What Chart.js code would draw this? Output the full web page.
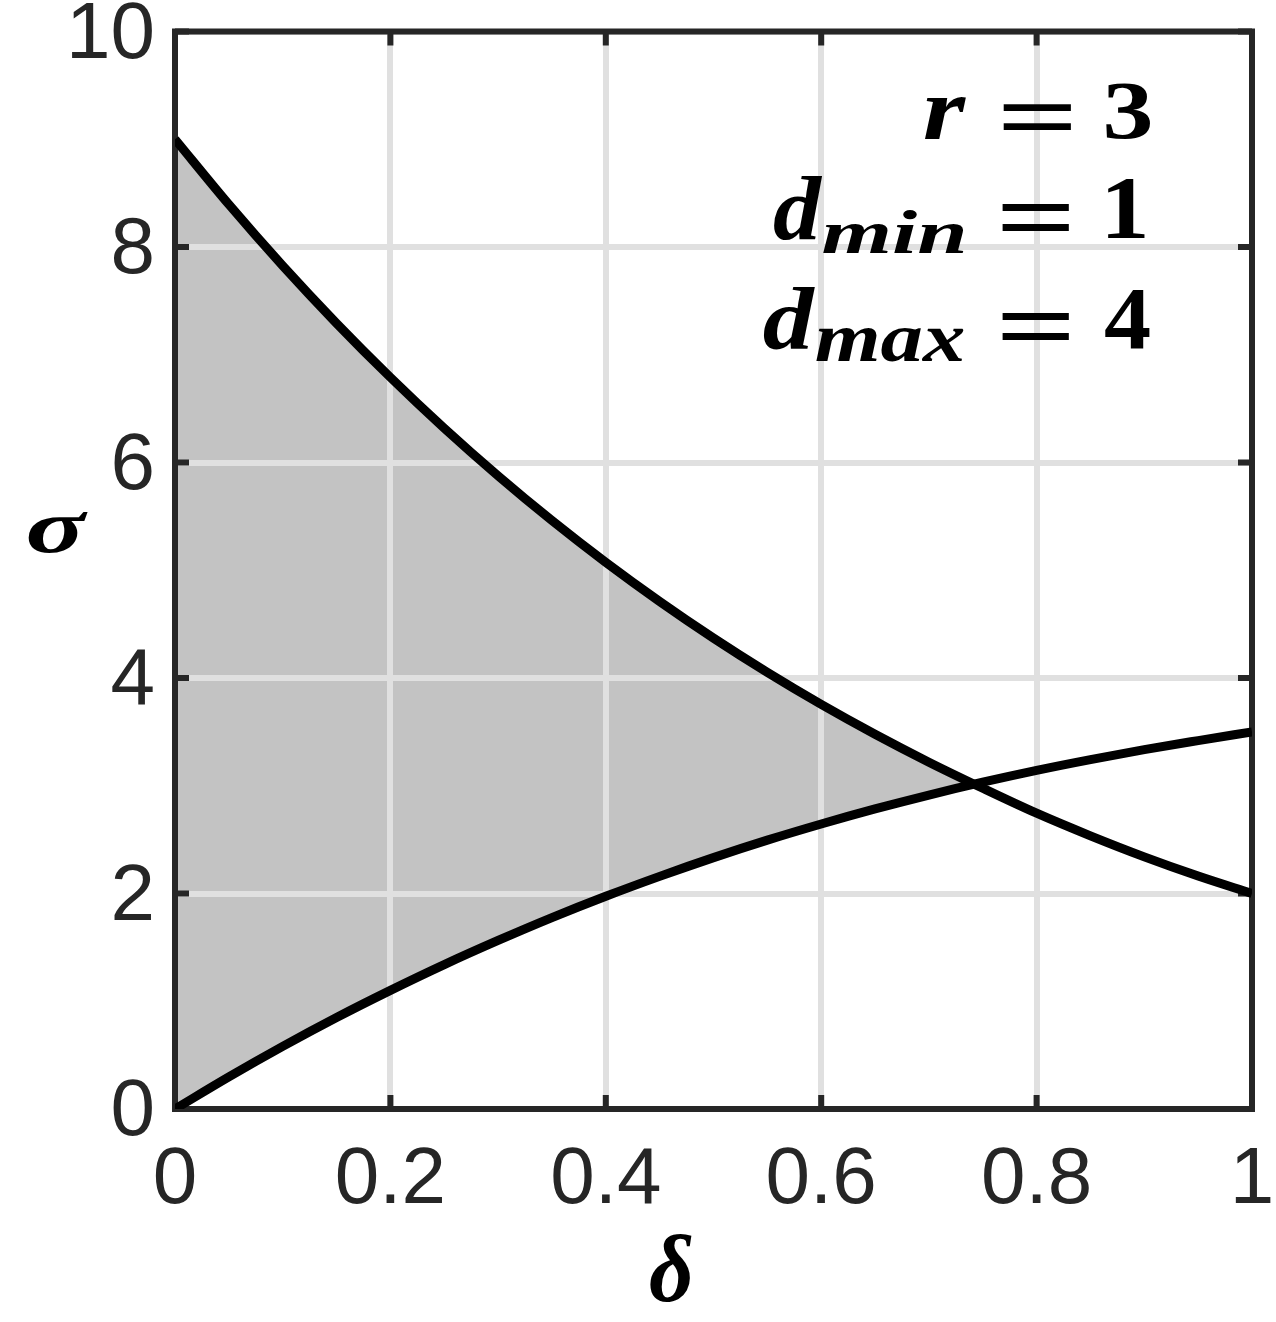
<!DOCTYPE html>
<html>
<head>
<meta charset="utf-8">
<script src="https://cdn.jsdelivr.net/npm/chart.js@4/dist/chart.umd.min.js"></script>
<style>
  html, body { margin: 0; padding: 0; background: #ffffff; }
  #c { display: block; }
</style>
</head>
<body>
<canvas id="c" width="1276" height="1322"></canvas>
<script>
// ---- data ----
const delta = [0, 0.05, 0.1, 0.15, 0.2, 0.25, 0.3, 0.35, 0.4, 0.45, 0.5,
               0.55, 0.6, 0.65, 0.7, 0.75, 0.8, 0.85, 0.9, 0.95, 1];
const sigmaUpper = [9.000, 8.395, 7.826, 7.292, 6.790, 6.318, 5.876, 5.461, 5.073, 4.710, 4.370,
                    4.052, 3.755, 3.478, 3.219, 2.977, 2.745, 2.535, 2.340, 2.162, 2.000];
const sigmaLower = [0.000, 0.298, 0.581, 0.849, 1.101, 1.340, 1.564, 1.776, 1.974, 2.159, 2.333,
                    2.495, 2.645, 2.785, 2.914, 3.033, 3.143, 3.243, 3.335, 3.419, 3.500];
const xTickLabels = ['0', '0.2', '0.4', '0.6', '0.8', '1'];
const yTickLabels = ['0', '2', '4', '6', '8', '10'];
const xLabel = 'δ';
const yLabel = 'σ';
const annotationLines = [
  { main: 'r', sub: '', value: '3' },
  { main: 'd', sub: 'min', value: '1' },
  { main: 'd', sub: 'max', value: '4' }
];

// ---- styling ----
const AXIS_COLOR = '#262626';
const GRID_COLOR = '#e0e0e0';
const FILL_COLOR = '#c3c3c3';
const TICK_FONT = "'Liberation Sans', Arial, sans-serif";
const MATH_FONT = "'Liberation Serif', 'Times New Roman', serif";

function fitText(ctx, text, font, L, T, R, B) {
  ctx.save();
  ctx.font = font;
  ctx.textAlign = 'left';
  ctx.textBaseline = 'alphabetic';
  const m = ctx.measureText(text);
  const inkW = m.actualBoundingBoxLeft + m.actualBoundingBoxRight;
  const inkH = m.actualBoundingBoxAscent + m.actualBoundingBoxDescent;
  const sx = (R - L) / inkW;
  const sy = (B - T) / inkH;
  ctx.translate(L + m.actualBoundingBoxLeft * sx, T + m.actualBoundingBoxAscent * sy);
  ctx.scale(sx, sy);
  ctx.fillText(text, 0, 0);
  ctx.restore();
}

// ink boxes for text pieces (page pixels)
const annotationBoxes = [
  { main: [924, 97, 966, 139],  sub: null,                 eq: [1003, 103, 1072, 129], val: [1106, 83, 1150, 140] },
  { main: [774, 175, 823, 240], sub: [823, 210, 964, 253], eq: [1002, 204, 1070, 231], val: [1108, 178, 1145, 238] },
  { main: [764, 287, 816, 350], sub: [816, 328, 964, 362], eq: [1002, 313, 1070, 340], val: [1105, 289, 1150, 349] }
];

const framePlugin = {
  id: 'frame',
  beforeDatasetsDraw(chart) {
    const ctx = chart.ctx;
    const a = chart.chartArea;
    const xs = chart.scales.x, ys = chart.scales.y;
    ctx.save();
    ctx.strokeStyle = AXIS_COLOR;
    ctx.lineWidth = 6;
    ctx.lineCap = 'butt';
    const tl = 14;
    ctx.beginPath();
    xs.ticks.forEach(t => {
      const px = xs.getPixelForValue(t.value);
      ctx.moveTo(px, a.bottom); ctx.lineTo(px, a.bottom - tl);
      ctx.moveTo(px, a.top); ctx.lineTo(px, a.top + tl);
    });
    ys.ticks.forEach(t => {
      const py = ys.getPixelForValue(t.value);
      ctx.moveTo(a.left, py); ctx.lineTo(a.left + tl, py);
      ctx.moveTo(a.right, py); ctx.lineTo(a.right - tl, py);
    });
    ctx.stroke();
    ctx.lineJoin = 'miter';
    ctx.strokeRect(a.left, a.top, a.right - a.left, a.bottom - a.top);
    ctx.restore();
  },
  afterDraw(chart) {
    const ctx = chart.ctx;
    ctx.save();
    ctx.fillStyle = '#000000';
    annotationLines.forEach((ln, i) => {
      const b = annotationBoxes[i];
      fitText(ctx, ln.main, 'italic bold 88px ' + MATH_FONT, ...b.main);
      if (ln.sub) fitText(ctx, ln.sub, 'italic bold 62px ' + MATH_FONT, ...b.sub);
      fitText(ctx, '=', 'bold 88px ' + MATH_FONT, ...b.eq);
      fitText(ctx, ln.value, 'bold 88px ' + MATH_FONT, ...b.val);
    });
    // axis labels
    fitText(ctx, xLabel, 'italic bold 92px ' + MATH_FONT, 650, 1235, 692, 1302);
    fitText(ctx, yLabel, 'italic bold 92px ' + MATH_FONT, 28, 512, 88, 553);
    ctx.restore();
  }
};

const upperPts = delta.map((d, i) => ({ x: d, y: sigmaUpper[i] }));
const lowerPts = delta.map((d, i) => ({ x: d, y: sigmaLower[i] }));

new Chart(document.getElementById('c'), {
  type: 'line',
  data: {
    datasets: [
      {
        data: upperPts,
        borderColor: '#000000',
        borderWidth: 9,
        pointRadius: 0,
        cubicInterpolationMode: 'monotone',
        fill: { target: 1, above: FILL_COLOR, below: 'rgba(0,0,0,0)' }
      },
      {
        data: lowerPts,
        borderColor: '#000000',
        borderWidth: 9,
        pointRadius: 0,
        cubicInterpolationMode: 'monotone',
        fill: false
      }
    ]
  },
  options: {
    responsive: false,
    animation: false,
    devicePixelRatio: 1,
    layout: { padding: { top: 31.5, right: 24, left: 0, bottom: 0 } },
    plugins: {
      legend: { display: false },
      tooltip: { enabled: false },
      filler: { drawTime: 'beforeDraw' }
    },
    scales: {
      x: {
        type: 'linear',
        min: 0, max: 1,
        ticks: {
          stepSize: 0.2,
          autoSkip: false,
          maxRotation: 0,
          padding: 24,
          color: AXIS_COLOR,
          font: { family: TICK_FONT, size: 80 },
          callback: (v, i) => xTickLabels[i]
        },
        grid: { color: GRID_COLOR, lineWidth: 6, drawTicks: false },
        border: { display: false },
        afterFit(s) { s.height = 213; s.paddingLeft = 0; s.paddingRight = 0; }
      },
      y: {
        type: 'linear',
        min: 0, max: 10,
        ticks: {
          stepSize: 2,
          autoSkip: false,
          padding: 20,
          labelOffset: 4,
          color: AXIS_COLOR,
          font: { family: TICK_FONT, size: 80 },
          callback: (v, i) => yTickLabels[i]
        },
        grid: { color: GRID_COLOR, lineWidth: 6, drawTicks: false },
        border: { display: false },
        afterFit(s) { s.width = 175; s.paddingTop = 0; s.paddingBottom = 0; }
      }
    }
  },
  plugins: [framePlugin]
});
</script>
</body>
</html>
